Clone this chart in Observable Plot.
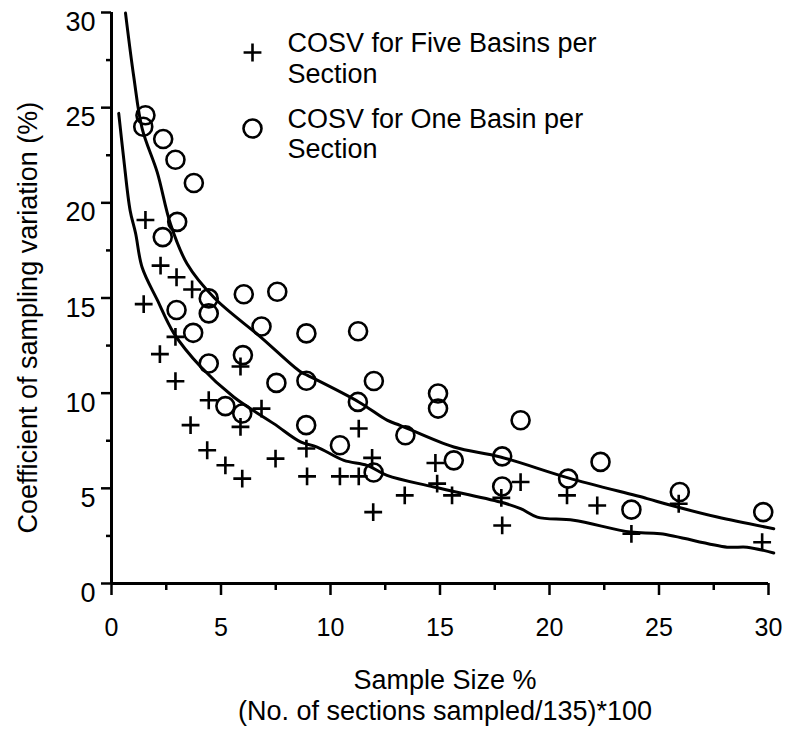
<!DOCTYPE html>
<html><head><meta charset="utf-8">
<script src="https://cdn.jsdelivr.net/npm/d3@7"></script>
<script src="https://cdn.jsdelivr.net/npm/@observablehq/plot@0.6"></script>
<style>
body{margin:0;background:#fff}
#chart svg{display:block}
g[aria-label="legend-text"]{letter-spacing:1.2px}
</style>
</head><body><div id="chart"></div>
<script>
const xTicks = [0, 5, 10, 15, 20, 25, 30];
const yTicks = [0, 5, 10, 15, 20, 25, 30];
const xMinor = [2.5, 7.5, 12.5, 17.5, 22.5, 27.5];
const yMinor = [2.5, 7.5, 12.5, 17.5, 22.5, 27.5];
const seriesNames = ["COSV for Five Basins per\nSection", "COSV for One Basin per\nSection"];
const xTitle = "Sample Size %\n(No. of sections sampled/135)*100";
const yTitle = "Coefficient of sampling variation (%)";

// COSV for Five Basins per Section (+)
const fiveX = [1.55, 2.24, 2.97, 3.68, 1.47, 2.92, 2.21, 2.92, 4.44, 3.61, 5.89, 6.85, 5.89, 4.37, 5.2, 5.97, 7.49, 8.9, 8.93, 10.43, 11.29, 11.29, 11.9, 11.95, 13.39, 14.79, 14.87, 15.55, 18.68, 17.84, 17.8, 20.8, 22.18, 23.74, 25.9, 29.71];
const fiveY = [19.1, 16.7, 16.09, 15.45, 14.68, 12.96, 12.05, 10.63, 9.63, 8.32, 8.23, 9.19, 11.4, 7.0, 6.21, 5.51, 6.56, 7.09, 5.63, 5.63, 5.63, 8.14, 6.6, 3.75, 4.63, 6.33, 5.25, 4.63, 5.33, 3.05, 4.5, 4.63, 4.1, 2.61, 4.19, 2.17];

// COSV for One Basin per Section (O)
const oneX = [1.55, 1.45, 2.36, 2.92, 3.76, 3.0, 2.34, 4.44, 6.04, 7.57, 2.97, 4.44, 3.73, 6.85, 8.9, 11.26, 4.44, 6.0, 7.53, 8.9, 11.98, 5.2, 5.97, 11.25, 8.89, 10.43, 11.97, 13.42, 14.91, 14.91, 15.63, 18.68, 17.84, 17.84, 20.85, 22.33, 23.74, 25.95, 29.76];
const oneY = [24.6, 24.0, 23.35, 22.26, 21.04, 19.0, 18.2, 14.98, 15.2, 15.33, 14.37, 14.19, 13.17, 13.5, 13.14, 13.25, 11.56, 12.0, 10.54, 10.65, 10.64, 9.32, 8.93, 9.54, 8.32, 7.26, 5.83, 7.79, 9.98, 9.19, 6.47, 8.58, 6.68, 5.1, 5.51, 6.39, 3.88, 4.81, 3.75];

// fitted curves
const fitOneX = [0.64, 1.02, 1.4, 2.09, 2.69, 3.45, 4.7, 6.8, 8.63, 8.93, 11.29, 12.58, 13.2, 15.63, 17.76, 20.85, 24.46, 25.37, 27.66, 30.24];
const fitOneY = [29.97, 26.6, 23.9, 21.6, 18.9, 16.8, 15.0, 12.96, 11.12, 10.95, 9.54, 8.58, 8.3, 7.17, 6.65, 5.55, 4.46, 4.16, 3.49, 2.88];
const fitFiveX = [0.33, 0.56, 0.85, 1.1, 1.4, 2.09, 2.85, 4.06, 5.58, 7.41, 8.63, 9.39, 10.61, 11.67, 12.58, 14.72, 17.76, 18.68, 19.44, 21.1, 23.7, 25.07, 28.11, 29.02, 30.24];
const fitFiveY = [24.7, 22.3, 19.6, 18.4, 16.6, 14.9, 13.14, 11.4, 9.8, 8.4, 7.44, 7.17, 6.47, 6.21, 5.68, 5.07, 4.28, 3.93, 3.49, 3.32, 2.7, 2.61, 1.91, 1.91, 1.6];

const five = fiveX.map((x, i) => ({x, y: fiveY[i]}));
const one = oneX.map((x, i) => ({x, y: oneY[i]}));
const fitOne = fitOneX.map((x, i) => ({x, y: fitOneY[i]}));
const fitFive = fitFiveX.map((x, i) => ({x, y: fitFiveY[i]}));

const chart = Plot.plot({
  width: 791,
  height: 730,
  marginLeft: 111,
  marginRight: 23,
  marginTop: 12,
  marginBottom: 147,
  style: {fontFamily: "'Liberation Sans', Arial, Helvetica, sans-serif", background: "white", color: "black"},
  x: {domain: [0, 30]},
  y: {domain: [0, 30]},
  marks: [
    Plot.axisX({ticks: xTicks, tickSize: 12, strokeWidth: 2.5, text: null, label: null}),
    Plot.axisX({ticks: xMinor, tickSize: 7, strokeWidth: 2.5, text: null, label: null}),
    Plot.axisX({ticks: xTicks, tickSize: 0, tickPadding: 35, fontSize: 25, label: null, tickFormat: d => String(d)}),
    Plot.axisY({ticks: yTicks, tickSize: 10, strokeWidth: 2.5, text: null, label: null}),
    Plot.axisY({ticks: yMinor, tickSize: 5, strokeWidth: 2.5, text: null, label: null}),
    Plot.axisY({ticks: yTicks, tickSize: 0, tickPadding: 16, dy: 10, fontSize: 27, label: null, tickFormat: d => String(d)}),
    Plot.ruleX([0], {strokeWidth: 3}),
    Plot.ruleY([0], {strokeWidth: 3}),
    Plot.line(fitOne, {x: "x", y: "y", stroke: "black", strokeWidth: 3, curve: "catmull-rom"}),
    Plot.line(fitFive, {x: "x", y: "y", stroke: "black", strokeWidth: 3, curve: "catmull-rom"}),
    Plot.dot(five, {x: "x", y: "y", symbol: "plus", r: 5.8, stroke: "black", fill: "none", strokeWidth: 2.6}),
    Plot.dot(one, {x: "x", y: "y", symbol: "circle", r: 9, stroke: "black", fill: "none", strokeWidth: 2.6}),
    // legend
    Plot.dot([seriesNames[0]], {frameAnchor: "top-left", dx: 141, dy: 40, symbol: "plus", r: 5.8, stroke: "black", fill: "none", strokeWidth: 2.6}),
    Plot.dot([seriesNames[1]], {frameAnchor: "top-left", dx: 141, dy: 116, symbol: "circle", r: 9, stroke: "black", fill: "none", strokeWidth: 2.6}),
    Plot.text([seriesNames[0]], {frameAnchor: "top-left", text: d => d, dx: 176, dy: 45.5, textAnchor: "start", lineAnchor: "middle", lineHeight: 31 / 27, fontSize: 27, ariaLabel: "legend-text"}),
    Plot.text([seriesNames[1]], {frameAnchor: "top-left", text: d => d, dx: 176, dy: 121, textAnchor: "start", lineAnchor: "middle", lineHeight: 30 / 27, fontSize: 27, ariaLabel: "legend-text"}),
    // axis titles
    Plot.text([xTitle], {frameAnchor: "bottom", text: d => d, dx: 5, dy: 111, lineAnchor: "middle", lineHeight: 31 / 27, fontSize: 27}),
    Plot.text([yTitle], {frameAnchor: "bottom-left", text: d => d, rotate: -90, textAnchor: "start", lineAnchor: "middle", dx: -83, dy: -50, fontSize: 27})
  ]
});
document.getElementById("chart").appendChild(chart);
</script>
</body></html>
